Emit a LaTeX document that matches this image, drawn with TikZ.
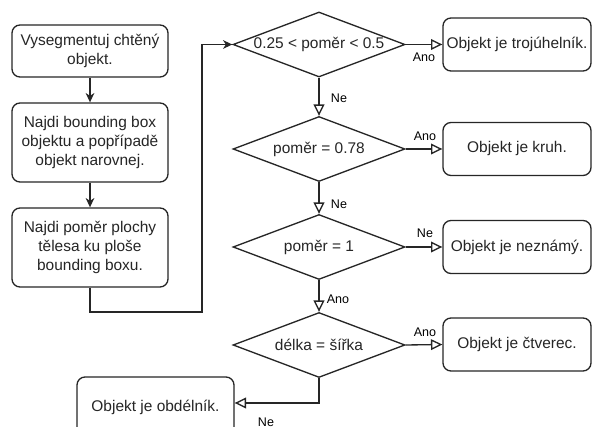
\documentclass[tikz,border=0pt]{standalone}
\usepackage{fontspec}
\setmainfont{Liberation Sans}
\usetikzlibrary{shapes.geometric,arrows.meta}
\tikzset{
  lc/.style={black!85, line width=1pt},
  stepbox/.style={lc, draw, rounded corners=6pt, fill=white, align=center, inner sep=2pt,
    font=\fontsize{11.6pt}{14pt}\selectfont},
  decision/.style={lc, draw, diamond, fill=white, inner sep=0pt, minimum width=129pt, minimum height=48.75pt,
    font=\fontsize{11.6pt}{14pt}\selectfont},
  flow/.style={lc, -{Stealth[length=7pt,width=6.5pt,inset=2.2pt]}},
  branch/.style={lc, -{Triangle[open,length=8.5pt,width=8pt,fill=white]}},
  lbl/.style={inner sep=0pt, font=\fontsize{9.4pt}{11pt}\selectfont}
}
\begin{document}
\begin{tikzpicture}[x=0.75pt,y=-0.75pt]
\useasboundingbox (0,0) rectangle (593,427);
% left column
\node[stepbox, minimum width=117pt, minimum height=39pt] (b1) at (90,51) {Vysegmentuj chtěný\\objekt.};
\node[stepbox, minimum width=117pt, minimum height=59.25pt] (b2) at (90,142.5) {Najdi bounding box\\objektu a popřípadě\\objekt narovnej.};
\node[stepbox, minimum width=117pt, minimum height=59.25pt] (b3) at (90,247.5) {Najdi poměr plochy\\tělesa ku ploše\\bounding boxu.};
% decisions
\node[decision] (d1) at (319,44.5) {\makebox[0pt]{0.25 < poměr < 0.5}};
\node[decision] (d2) at (319,149) {\makebox[0pt]{poměr = 0.78}};
\node[decision] (d3) at (319,247) {\makebox[0pt]{poměr = 1}};
\node[decision] (d4) at (319,345) {\makebox[0pt]{délka = šířka}};
% results
\node[stepbox, minimum width=111pt, minimum height=39.75pt] (r1) at (517,44.5) {Objekt je trojúhelník.};
\node[stepbox, minimum width=111pt, minimum height=39.75pt] (r2) at (517,149) {Objekt je kruh.};
\node[stepbox, minimum width=111pt, minimum height=39.75pt] (r3) at (517,247) {Objekt je neznámý.};
\node[stepbox, minimum width=111pt, minimum height=39.75pt] (r4) at (517,344.5) {Objekt je čtverec.};
\node[stepbox, minimum width=117.75pt, minimum height=45pt] (r5) at (155.5,407) {Objekt je obdélník.};
% helper coordinates
\coordinate (c1) at (202,312);
\coordinate (c2) at (319,403);
% connectors
\draw[flow] (b1) -- (b2);
\draw[flow] (b2) -- (b3);
\draw[flow] (b3.south) |- (c1) |- (d1.west);
\draw[branch] (d1.east) -- (r1.west);
\draw[branch] (d1.south) -- (d2.north);
\draw[branch] (d2.east) -- (r2.west);
\draw[branch] (d2.south) -- (d3.north);
\draw[branch] (d3.east) -- (r3.west);
\draw[branch] (d3.south) -- (d4.north);
\draw[branch] (d4.east) -- (r4.west);
\draw[branch] (d4.south) -- (c2) -- (c2 -| r5.east);
% labels
\node[lbl] (l1) at (424,57) {Ano};
\node[lbl] (l2) at (339,98.5) {Ne};
\node[lbl] (l3) at (425,136) {Ano};
\node[lbl] (l4) at (339,204.5) {Ne};
\node[lbl] (l5) at (425,233) {Ne};
\node[lbl] (l6) at (338,299.5) {Ano};
\node[lbl] (l7) at (425,332.5) {Ano};
\node[lbl] (l8) at (266,422) {Ne};
\end{tikzpicture}
\end{document}
